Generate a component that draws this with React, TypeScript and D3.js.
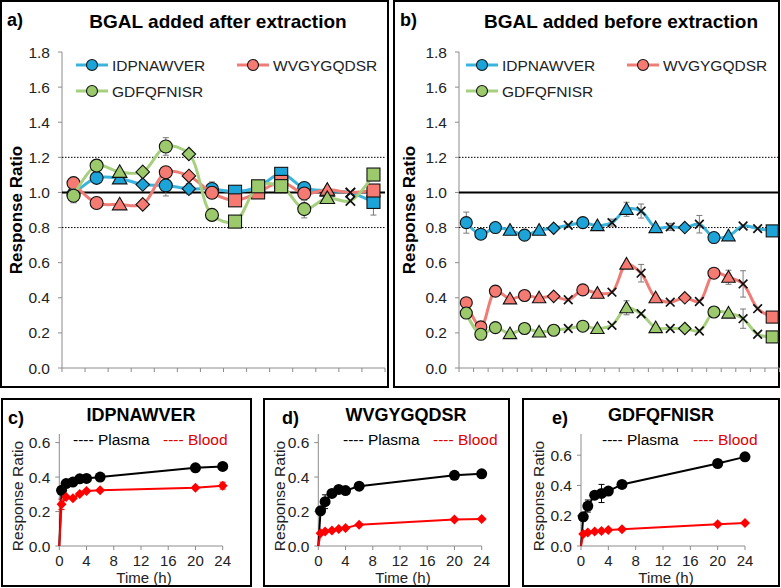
import React from 'react';
import * as d3 from 'd3';

const FONT = "'Liberation Sans', Arial, Helvetica, sans-serif";
const AXIS = '#8c8c8c';

// ---- screening panels (a, b) ----
const seriesNames = ['IDPNAWVER', 'WVGYGQDSR', 'GDFQFNISR'];
const lineColors = ['#3ab4dc', '#f07c76', '#a6cf7e'];
const fillColors = ['#1ca4d8', '#f47a72', '#9bc96c'];
const yTicksTop = [0, 0.2, 0.4, 0.6, 0.8, 1.0, 1.2, 1.4, 1.6, 1.8];

const shapesA = ['circle', 'circle', 'triangle', 'diamond', 'circle', 'diamond', 'circle', 'square', 'square', 'square', 'circle', 'triangle', 'cross', 'square'];
const blueA = [0.99, 1.083, 1.08, 1.045, 1.04, 1.021, 1.02, 1.004, 1.03, 1.106, 1.025, 1.01, 0.998, 0.946];
const redA = [1.053, 0.94, 0.932, 0.932, 1.115, 1.094, 0.998, 0.955, 1.0, 1.06, 0.994, 1.015, 1.0, 1.011];
const greenA = [0.981, 1.153, 1.117, 1.117, 1.262, 1.219, 0.872, 0.834, 1.035, 1.036, 0.905, 0.968, 0.952, 1.102];
const errBlueA = [0, 0, 0.02, 0, 0.06, 0.03, 0.04, 0, 0, 0, 0, 0, 0, 0.075];
const errRedA = [0, 0, 0, 0, 0.02, 0, 0, 0, 0, 0, 0, 0, 0, 0];
const errGreenA = [0.04, 0, 0, 0, 0.05, 0, 0, 0, 0, 0, 0.05, 0.03, 0, 0];

const shapesB = ['circle', 'circle', 'circle', 'triangle', 'circle', 'triangle', 'diamond', 'cross', 'circle', 'triangle', 'cross', 'triangle', 'cross', 'triangle', 'cross', 'diamond', 'cross', 'circle', 'triangle', 'cross', 'cross', 'square'];
const shapesBGreen = ['circle', 'circle', 'circle', 'triangle', 'circle', 'triangle', 'circle', 'cross', 'circle', 'triangle', 'cross', 'triangle', 'cross', 'triangle', 'cross', 'diamond', 'cross', 'circle', 'triangle', 'cross', 'cross', 'square'];
const blueB = [0.828, 0.762, 0.8, 0.785, 0.757, 0.785, 0.796, 0.813, 0.828, 0.811, 0.828, 0.904, 0.894, 0.8, 0.804, 0.8, 0.819, 0.743, 0.753, 0.809, 0.794, 0.781];
const redB = [0.372, 0.234, 0.438, 0.394, 0.413, 0.4, 0.408, 0.389, 0.445, 0.426, 0.432, 0.592, 0.54, 0.4, 0.375, 0.4, 0.379, 0.54, 0.517, 0.479, 0.338, 0.29];
const greenB = [0.313, 0.192, 0.23, 0.196, 0.225, 0.205, 0.215, 0.225, 0.238, 0.225, 0.243, 0.343, 0.309, 0.23, 0.225, 0.225, 0.211, 0.319, 0.313, 0.281, 0.192, 0.177];
const errBlueB = [0.06, 0, 0, 0, 0, 0, 0, 0, 0, 0, 0.02, 0.04, 0.04, 0, 0.02, 0, 0.05, 0, 0, 0, 0, 0];
const errRedB = [0, 0, 0, 0, 0, 0, 0, 0, 0, 0, 0, 0, 0.05, 0, 0, 0, 0, 0, 0.04, 0.075, 0, 0];
const errGreenB = [0, 0, 0, 0, 0, 0, 0, 0, 0, 0, 0, 0.04, 0, 0, 0, 0, 0, 0, 0, 0.055, 0, 0];

// ---- time course panels (c, d, e) ----
const times = [0, 0.33, 1, 2, 3, 4, 6, 20, 24];
const xTicksTime = [0, 4, 8, 12, 16, 20, 24];
const yTicksTime = [0, 0.2, 0.4, 0.6];
const plasmaC = [0, 0.323, 0.362, 0.371, 0.39, 0.392, 0.4, 0.454, 0.462];
const bloodC = [0, 0.242, 0.285, 0.277, 0.302, 0.319, 0.323, 0.338, 0.35];
const plasmaErrC = [0, 0, 0.02, 0.02, 0.01, 0, 0, 0, 0];
const bloodErrC = [0, 0.03, 0, 0, 0, 0, 0, 0, 0.02];
const plasmaD = [0, 0.204, 0.257, 0.305, 0.328, 0.322, 0.347, 0.41, 0.419];
const bloodD = [0, 0.074, 0.084, 0.09, 0.099, 0.105, 0.124, 0.154, 0.156];
const plasmaErrD = [0, 0, 0.04, 0, 0, 0, 0, 0, 0];
const bloodErrD = [0, 0, 0, 0, 0, 0, 0, 0, 0];
const plasmaE = [0, 0.193, 0.264, 0.336, 0.347, 0.363, 0.407, 0.545, 0.589];
const bloodE = [0, 0.079, 0.09, 0.095, 0.099, 0.105, 0.11, 0.143, 0.152];
const plasmaErrE = [0, 0, 0.04, 0.02, 0.06, 0, 0, 0, 0];
const bloodErrE = [0, 0, 0, 0, 0, 0, 0, 0, 0];

function Marker({ shape, x, y, fill, s }: any) {
  const st = { stroke: '#111', strokeWidth: 1.1 };
  if (shape === 'circle') return <circle cx={x} cy={y} r={s / 2} fill={fill} {...st} />;
  if (shape === 'square') return <rect x={x - s / 2} y={y - s / 2} width={s} height={s} fill={fill} {...st} />;
  if (shape === 'triangle') {
    const w = s * 0.56;
    return <polygon points={`${x},${y - s * 0.55} ${x + w},${y + s * 0.42} ${x - w},${y + s * 0.42}`} fill={fill} {...st} />;
  }
  if (shape === 'diamond') {
    const d = s * 0.52;
    return <polygon points={`${x},${y - d} ${x + d},${y} ${x},${y + d} ${x - d},${y}`} fill={fill} {...st} />;
  }
  const c = s * 0.36;
  return <path d={`M${x - c},${y - c}L${x + c},${y + c}M${x + c},${y - c}L${x - c},${y + c}`} stroke="#111" strokeWidth={1.7} fill="none" />;
}

function ErrBar({ x, y0, y1, color, cap }: any) {
  return (
    <g stroke={color} strokeWidth={1}>
      <line x1={x} x2={x} y1={y0} y2={y1} />
      <line x1={x - cap} x2={x + cap} y1={y0} y2={y0} />
      <line x1={x - cap} x2={x + cap} y1={y1} y2={y1} />
    </g>
  );
}

function ScreenPanel({ frame, label, title, titleX, values, errors, shapes, xRange, labelX, yTitleX, legendX, ms }: any) {
  const n = values[0].length;
  const x = d3.scaleBand<number>().domain(d3.range(n)).range(xRange);
  const y = d3.scaleLinear().domain([0, 1.8]).range([368, 52]);
  const cx = (i: number) => (x(i) as number) + x.bandwidth() / 2;
  const line = d3.line<number>().x((_, i) => cx(i)).y((d) => y(d)).curve(d3.curveCatmullRom.alpha(0.5));
  return (
    <g>
      <rect x={frame[0]} y={frame[1]} width={frame[2]} height={frame[3]} fill="#fff" stroke="#000" strokeWidth={2} />
      <text x={frame[0] + 6} y={26} fontSize={18} fontWeight="bold">{label}</text>
      <text x={titleX} y={28} fontSize={19} fontWeight="bold" textAnchor="middle">{title}</text>
      {/* y axis */}
      <line x1={xRange[0]} x2={xRange[0]} y1={y(0)} y2={y(1.8)} stroke={AXIS} />
      {yTicksTop.map((t) => (
        <g key={t}>
          <line x1={xRange[0] - 4} x2={xRange[0]} y1={y(t)} y2={y(t)} stroke={AXIS} />
          <text x={labelX} y={y(t) + 5.5} fontSize={15.5} textAnchor="end" fill="#222">{t.toFixed(1)}</text>
        </g>
      ))}
      <text transform={`translate(${yTitleX},${y(0.9)}) rotate(-90)`} fontSize={17} fontWeight="bold" textAnchor="middle">Response Ratio</text>
      {/* x axis */}
      <line x1={xRange[0]} x2={xRange[1]} y1={y(0)} y2={y(0)} stroke={AXIS} />
      {d3.range(n + 1).map((i) => (
        <line key={i} x1={xRange[0] + i * x.step()} x2={xRange[0] + i * x.step()} y1={y(0)} y2={y(0) + 4} stroke={AXIS} />
      ))}
      {/* reference lines */}
      <line x1={xRange[0]} x2={xRange[1]} y1={y(1.2)} y2={y(1.2)} stroke="#000" strokeWidth={1} strokeDasharray="1.5,1.5" />
      <line x1={xRange[0]} x2={xRange[1]} y1={y(0.8)} y2={y(0.8)} stroke="#000" strokeWidth={1} strokeDasharray="1.5,1.5" />
      <line x1={xRange[0]} x2={xRange[1]} y1={y(1.0)} y2={y(1.0)} stroke="#000" strokeWidth={2} />
      {/* series */}
      {values.map((vals: number[], si: number) => (
        <g key={si}>
          {vals.map((v, i) =>
            errors[si][i] > 0 ? (
              <ErrBar key={i} x={cx(i)} y0={y(v - errors[si][i])} y1={y(v + errors[si][i])} color="#7a7a7a" cap={3} />
            ) : null
          )}
          <path d={line(vals) as string} fill="none" stroke={lineColors[si]} strokeWidth={3} />
          {vals.map((v, i) => (
            <Marker key={i} shape={shapes[si][i]} x={cx(i)} y={y(v)} fill={fillColors[si]} s={ms} />
          ))}
        </g>
      ))}
      {/* legend */}
      {seriesNames.map((name, si) => {
        const lx = si === 1 ? legendX[1] : legendX[0];
        const ly = si === 2 ? 91 : 65;
        return (
          <g key={name}>
            <line x1={lx - 16} x2={lx + 16} y1={ly} y2={ly} stroke={lineColors[si]} strokeWidth={3} />
            <circle cx={lx} cy={ly} r={5.5} fill={fillColors[si]} stroke="#111" strokeWidth={1.1} />
            <text x={lx + 20} y={ly + 5.5} fontSize={15.5} fill="#222">{name}</text>
          </g>
        );
      })}
    </g>
  );
}

function TimePanel({ frame, label, labelX, title, titleX, plasma, blood, plasmaErr, bloodErr, xRange, yMax, legendX }: any) {
  const x = d3.scaleLinear().domain([0, 24]).range(xRange);
  const y = d3.scaleLinear().domain([0, yMax]).range([546, 434]);
  const line = d3.line<number>().x((_, i) => x(times[i])).y((d) => y(d));
  const mid = (xRange[0] + xRange[1]) / 2;
  return (
    <g>
      <rect x={frame[0]} y={frame[1]} width={frame[2]} height={frame[3]} fill="#fff" stroke="#000" strokeWidth={2} />
      <text x={labelX} y={424} fontSize={18} fontWeight="bold">{label}</text>
      <text x={titleX} y={421} fontSize={18} fontWeight="bold" textAnchor="middle">{title}</text>
      <text x={legendX[0]} y={445} fontSize={15.5} fill="#000">---- Plasma</text>
      <text x={legendX[1]} y={445} fontSize={15.5} fill="#e00000">---- Blood</text>
      <line x1={xRange[0]} x2={xRange[0]} y1={y(0)} y2={y(yMax)} stroke={AXIS} />
      {yTicksTime.map((t) => (
        <g key={t}>
          <line x1={xRange[0] - 4} x2={xRange[0]} y1={y(t)} y2={y(t)} stroke={AXIS} />
          <text x={xRange[0] - 9} y={y(t) + 5.5} fontSize={15.5} textAnchor="end" fill="#222">{t.toFixed(1)}</text>
        </g>
      ))}
      <line x1={xRange[0]} x2={xRange[1]} y1={y(0)} y2={y(0)} stroke={AXIS} />
      {xTicksTime.map((t) => (
        <g key={t}>
          <line x1={x(t)} x2={x(t)} y1={y(0)} y2={y(0) + 4} stroke={AXIS} />
          <text x={x(t)} y={566} fontSize={15} textAnchor="middle" fill="#222">{t}</text>
        </g>
      ))}
      <text x={mid + 3} y={583} fontSize={15} textAnchor="middle" fill="#222">Time (h)</text>
      <text transform={`translate(${frame[0] + 21},496) rotate(-90)`} fontSize={15.5} textAnchor="middle" fill="#222">Response Ratio</text>
      {[{ v: plasma, e: plasmaErr, c: '#000' }, { v: blood, e: bloodErr, c: '#ff0000' }].map((s, si) => (
        <g key={si}>
          {s.v.map((v: number, i: number) =>
            s.e[i] > 0 ? <ErrBar key={i} x={x(times[i])} y0={y(v - s.e[i])} y1={y(v + s.e[i])} color={s.c} cap={3} /> : null
          )}
          <path d={line(s.v) as string} fill="none" stroke={s.c} strokeWidth={2} />
          {s.v.map((v: number, i: number) =>
            i === 0 ? null : si === 0 ? (
              <circle key={i} cx={x(times[i])} cy={y(v)} r={5.5} fill="#000" />
            ) : (
              <polygon key={i} points={`${x(times[i])},${y(v) - 5} ${x(times[i]) + 5},${y(v)} ${x(times[i])},${y(v) + 5} ${x(times[i]) - 5},${y(v)}`} fill="#ff0000" />
            )
          )}
        </g>
      ))}
    </g>
  );
}

export default function App() {
  return (
    <svg width={781} height={588} style={{ position: 'absolute', left: 0, top: 0, background: '#fff' }} fontFamily={FONT}>
      <ScreenPanel
        frame={[1, 1, 387, 386]} label="a)" title="BGAL added after extraction" titleX={218}
        values={[blueA, redA, greenA]} errors={[errBlueA, errRedA, errGreenA]} shapes={[shapesA, shapesA, shapesA]}
        xRange={[62, 385]} labelX={50} yTitleX={22} legendX={[92, 253]} ms={13}
      />
      <ScreenPanel
        frame={[394, 1, 385, 386]} label="b)" title="BGAL added before extraction" titleX={621}
        values={[blueB, redB, greenB]} errors={[errBlueB, errRedB, errGreenB]} shapes={[shapesB, shapesB, shapesBGreen]}
        xRange={[459, 779.5]} labelX={447} yTitleX={415} legendX={[482, 643]} ms={12}
      />
      <TimePanel frame={[2, 399, 249, 187]} label="c)" labelX={8} title="IDPNAWVER" titleX={141}
        plasma={plasmaC} blood={bloodC} plasmaErr={plasmaErrC} bloodErr={bloodErrC}
        xRange={[59.3, 222.7]} yMax={0.65} legendX={[73, 163]} />
      <TimePanel frame={[264, 399, 245, 187]} label="d)" labelX={282} title="WVGYGQDSR" titleX={406}
        plasma={plasmaD} blood={bloodD} plasmaErr={plasmaErrD} bloodErr={bloodErrD}
        xRange={[318.3, 481.7]} yMax={0.65} legendX={[343, 433]} />
      <TimePanel frame={[523, 399, 256, 187]} label="e)" labelX={552} title="GDFQFNISR" titleX={661}
        plasma={plasmaE} blood={bloodE} plasmaErr={plasmaErrE} bloodErr={bloodErrE}
        xRange={[581, 745]} yMax={0.74} legendX={[602, 693]} />
    </svg>
  );
}
